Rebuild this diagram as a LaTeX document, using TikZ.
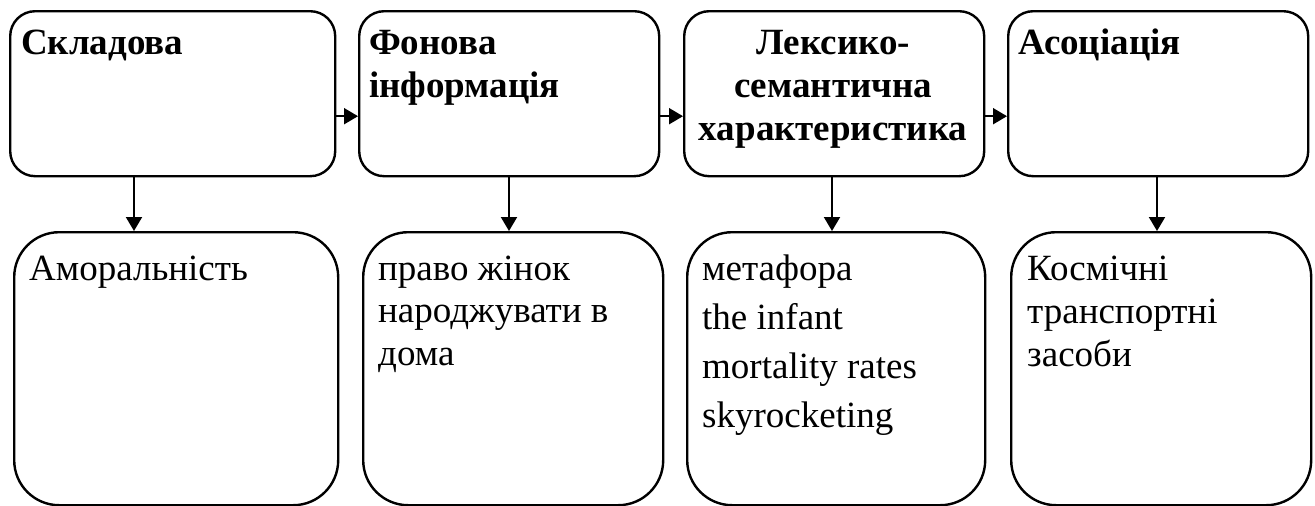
\documentclass[tikz,border=0pt]{standalone}
\usepackage{fontspec}
\setmainfont{Liberation Serif}
\usetikzlibrary{arrows.meta}
\tikzset{
  topbox/.style={draw, line width=2.4pt, rounded corners=25pt, minimum width=#1, minimum height=165pt, anchor=north west, inner sep=0pt},
  botbox/.style={draw, line width=2.4pt, rounded corners=45pt, minimum width=#1, minimum height=273pt, anchor=north west, inner sep=0pt},
  txt/.style={anchor=base west, inner sep=0pt},
  arr/.style={line width=2pt, -{Triangle[length=14pt,width=16pt]}}
}
\newcommand{\toptext}[1]{\parbox[t]{290pt}{\raggedright\fontsize{37}{43.5}\selectfont\bfseries #1}}
\newcommand{\bottext}[2]{\parbox[t]{280pt}{\raggedright\fontsize{37}{#1}\selectfont #2}}
\begin{document}
\begin{tikzpicture}[x=1pt,y=-1pt]
\useasboundingbox (0,0) rectangle (1315,506);
% top row
\node[topbox=325pt] (t1) at (9,10) {};
\node[topbox=300pt] (t2) at (358,10) {};
\node[topbox=300pt] (t3) at (683,10) {};
\node[topbox=300pt] (t4) at (1007,10) {};
% bottom row
\node[botbox=324pt] (b1) at (13,231) {};
\node[botbox=300pt] (b2) at (362,231) {};
\node[botbox=298pt] (b3) at (686,231) {};
\node[botbox=300pt] (b4) at (1010,231) {};
% top texts
\node[txt] (t1x) at (21,54) {\toptext{Складова}};
\node[txt] (t2x) at (369,54) {\toptext{Фонова\\інформація}};
\node[txt] (t3x) at (683,54) {\parbox[t]{300pt}{\centering\fontsize{37}{43}\selectfont\bfseries Лексико-\\семантична\\характеристика}};
\node[txt] (t4x) at (1018,54) {\toptext{Асоціація}};
% bottom texts
\node[txt] (b1x) at (29,280) {\bottext{43}{Аморальність}};
\node[txt] (b2x) at (378,280) {\bottext{42.5}{право жінок\\народжувати в\\дома}};
\node[txt] (b3x) at (702,280) {\bottext{49.3}{метафора\\the infant\\mortality rates\\skyrocketing}};
\node[txt] (b4x) at (1027,280) {\bottext{43}{Космічні\\транспортні\\засоби}};
% horizontal arrows
\draw[arr] ([yshift=-22.5pt]t1.east) -- ([yshift=-22.5pt]t2.west);
\draw[arr] ([yshift=-22.5pt]t2.east) -- ([yshift=-22.5pt]t3.west);
\draw[arr] ([yshift=-22.5pt]t3.east) -- ([yshift=-22.5pt]t4.west);
% vertical arrows
\coordinate (a1) at (134,0);
\coordinate (a2) at (509,0);
\coordinate (a3) at (832,0);
\coordinate (a4) at (1157,0);
\draw[arr] (t1.south -| a1) -- (b1.north -| a1);
\draw[arr] (t2.south -| a2) -- (b2.north -| a2);
\draw[arr] (t3.south -| a3) -- (b3.north -| a3);
\draw[arr] (t4.south -| a4) -- (b4.north -| a4);
\end{tikzpicture}
\end{document}
